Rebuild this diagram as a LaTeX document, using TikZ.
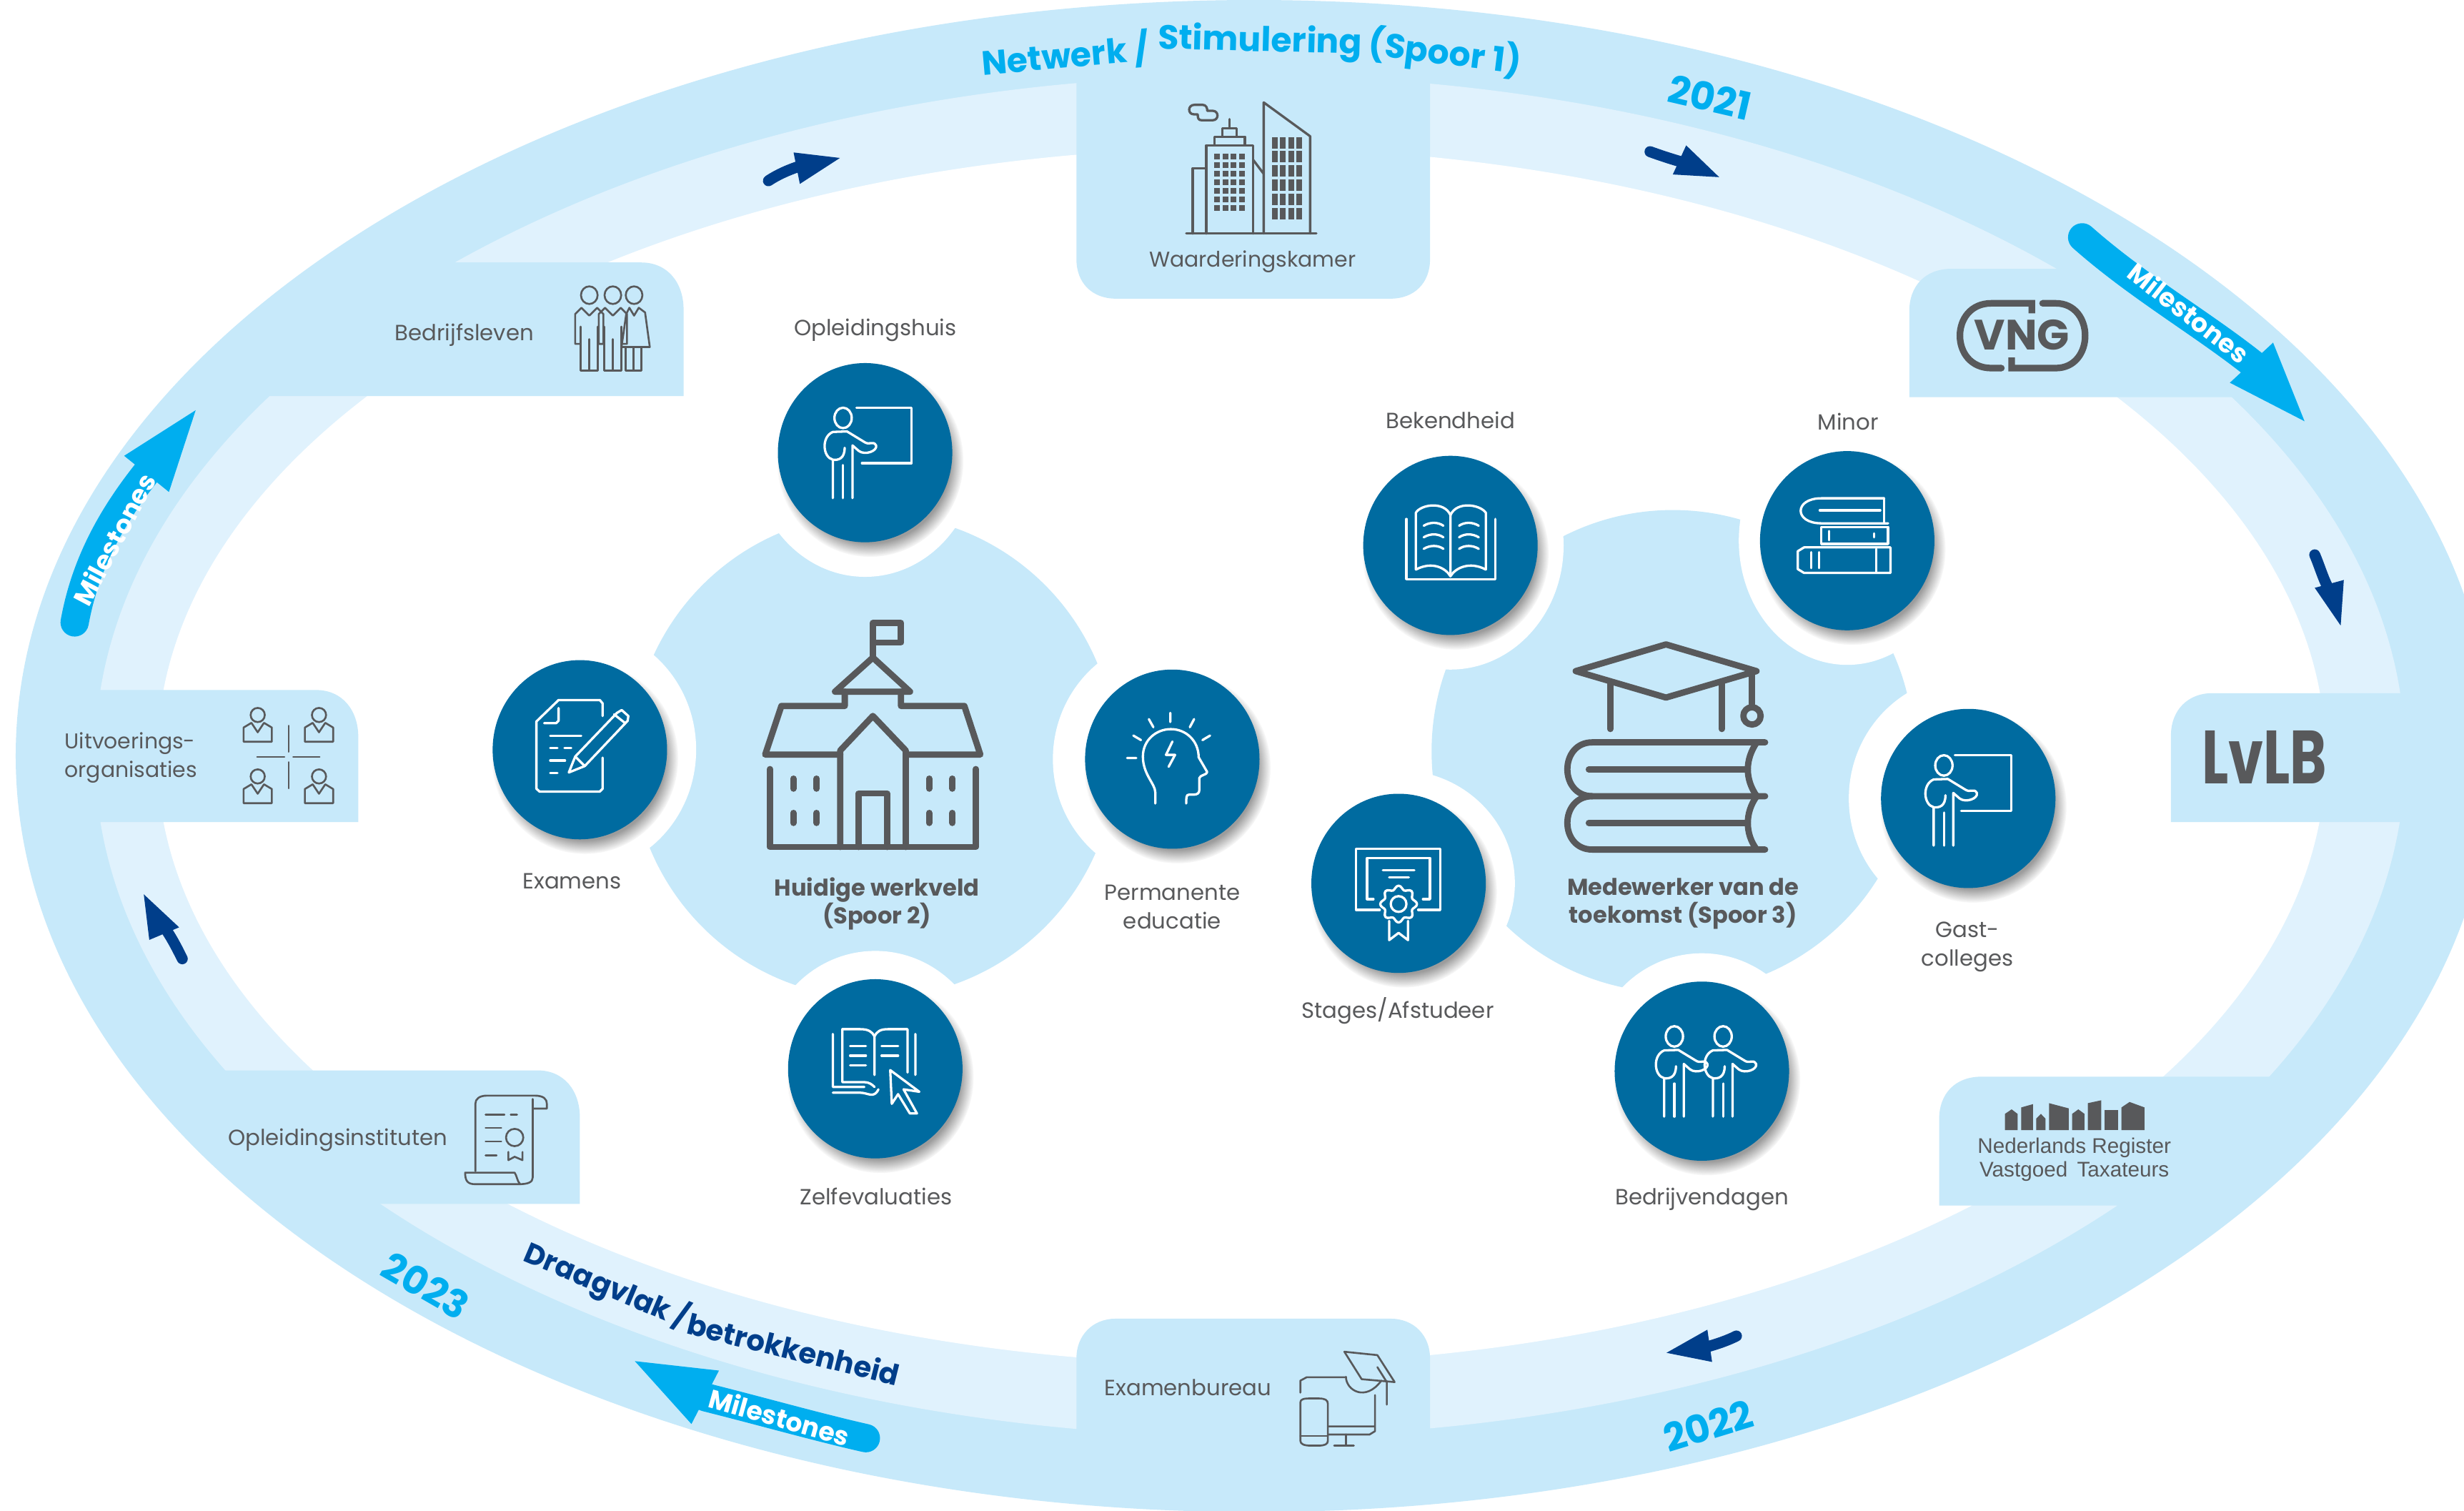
\documentclass[tikz,border=0pt]{standalone}
\usepackage{fontspec}
\setmainfont{Poppins}
\usetikzlibrary{shadows,shapes.geometric}
\definecolor{ringdark}{HTML}{C7E9FA}
\definecolor{ringlight}{HTML}{E0F2FD}
\definecolor{circblue}{HTML}{006BA0}
\definecolor{txtgray}{HTML}{58595B}
\definecolor{skyb}{HTML}{00AEEF}
\definecolor{navyb}{HTML}{003E8A}
\tikzset{
  lbl/.style={font=\fontsize{14}{18}\selectfont,text=txtgray,inner sep=0pt,align=center,text height=9.4pt,text depth=0pt},
  lblm/.style={font=\fontsize{14}{18.3}\selectfont,text=txtgray,inner sep=0pt,align=center},
  lblb/.style={font=\fontsize{14.6}{18}\selectfont\bfseries,text=txtgray,inner sep=0pt,align=center},
  yearlbl/.style={font=\fontsize{24.5}{26}\selectfont\bfseries,text=skyb,inner sep=0pt},
  mslbl/.style={font=\fontsize{16.5}{18}\selectfont\bfseries,text=white,inner sep=0pt},
  ringsky/.style={font=\fontsize{21.5}{24}\selectfont\bfseries,text=skyb,inner sep=0pt},
  ringnavy/.style={font=\fontsize{18.3}{22}\selectfont\bfseries,text=navyb,inner sep=0pt},
  circ/.style={ellipse,fill=circblue,inner sep=0pt,minimum width=111pt,minimum height=114pt,
    circular drop shadow={shadow xshift=3pt,shadow yshift=-5pt,shadow scale=1.07,opacity=.55,fill=black!70}},
  iconw/.style={draw=white,line width=1.5pt,line cap=round,line join=round,fill=none},
  icong/.style={draw=txtgray,line width=1.2pt,line cap=round,line join=round,fill=none},
  iconbig/.style={draw=txtgray,line width=4pt,line cap=round,line join=round,fill=none},
  sshaft/.style={draw=navyb,line width=7pt,line cap=round},
  shead/.style={fill=navyb},
  mshaft/.style={draw=skyb,line width=18pt,line cap=round},
  mhead/.style={fill=skyb}
}
\newcommand\persfig[2]{\begin{scope}[shift={(#1,#2)}]
  \draw[iconw] (0,0) ellipse [x radius=5.5pt,y radius=6.5pt];
  \draw[iconw] (-6.5,51)--(-6.5,26.6) .. controls (-13,25) and (-14,12) .. (-6.5,8.9) -- (2.5,8.6) -- (13,15) .. controls (17,18) and (19,14) .. (21,17.5) .. controls (22,21) and (14,24) .. (10,21) -- (6,17.5) -- (6,51);
  \draw[iconw] (-6.5,26.6) .. controls (-3,27) and (1,26) .. (1,19);
  \draw[iconw] (0,30)--(0,51);
\end{scope}}
\newcommand\staffig[2]{\begin{scope}[shift={(#1,#2)}]
  \draw[icong] (0,0) circle [radius=4.5pt];
  \draw[icong] (-9,17)--(9,17)--(9,8)--(4,5)--(0,11)--(-4,5)--(-9,8)--cycle;
\end{scope}}
\newcommand\manfig[1]{\begin{scope}[shift={(#1,187.8)}]
  \draw[icong] (0,0) ellipse [x radius=5.3pt,y radius=5.6pt];
  \draw[icong] (-5,8)--(0,13)--(5,8) (-5,8)--(-9,12)--(-9,31)--(-6,31) (5,8)--(9,12)--(9,31)--(6,31);
  \draw[icong] (-5.5,20)--(-5.5,48)--(5.5,48)--(5.5,20) (0,28)--(0,48);
\end{scope}}
\begin{document}
\begin{tikzpicture}[x=1pt,y=-1pt]
\clip (0,0) rectangle (1568,961);
\fill[white] (0,0) rectangle (1568,961);
% rings
\fill[ringdark] (798,481) ellipse [x radius=788pt,y radius=481pt];
\fill[ringlight] (795.5,481) ellipse [x radius=735pt,y radius=433pt];
\fill[white] (790,481) ellipse [x radius=690pt,y radius=387pt];
% boxes
\fill[ringdark] (685,35)--(910,35)--(910,165) .. controls (910,180) and (900,190) .. (885,190)--(710,190) .. controls (695,190) and (685,180) .. (685,165)--cycle;
\fill[ringdark] (250,167)--(408,167) .. controls (425,167) and (435,180) .. (435,197)--(435,252)--(150,252)--cycle;
\fill[ringdark] (30,439)--(201,439) .. controls (218,439) and (228,452) .. (228,469)--(228,523)--(30,523)--cycle;
\fill[ringdark] (120,681)--(342,681) .. controls (359,681) and (369,694) .. (369,711)--(369,766)--(210,766)--cycle;
\fill[ringdark] (685,915)--(685,864) .. controls (685,850) and (695,839) .. (710,839)--(885,839) .. controls (900,839) and (910,850) .. (910,864)--(910,915)--cycle;
\fill[ringdark] (1215,252.7)--(1215,198) .. controls (1215,182) and (1225,171) .. (1242,171)--(1340,171)--(1460,252.7)--cycle;
\fill[ringdark] (1381.5,523)--(1381.5,468) .. controls (1381.5,452) and (1392,441) .. (1408,441)--(1568,441)--(1568,523)--cycle;
\fill[ringdark] (1234,767)--(1234,712) .. controls (1234,696) and (1244,685) .. (1261,685)--(1470,685)--(1370,767)--cycle;
% blobs and cut-outs
\fill[ringdark] (556,481) circle [radius=154pt];
\fill[ringdark] (1064.5,478) circle [radius=153.5pt];
\fill[white] (550.5,288) ellipse [x radius=72pt,y radius=79pt];
\fill[white] (369,477) ellipse [x radius=74pt,y radius=78pt];
\fill[white] (746,483) ellipse [x radius=76pt,y radius=78pt];
\fill[white] (557,680) ellipse [x radius=72pt,y radius=75pt];
\fill[white] (923,347) ellipse [x radius=72pt,y radius=79pt];
\fill[white] (1175.5,344) ellipse [x radius=69pt,y radius=79pt];
\fill[white] (1252.5,508) ellipse [x radius=76pt,y radius=78pt];
\fill[white] (890,562) ellipse [x radius=74pt,y radius=72pt];
\fill[white] (1083,681.5) ellipse [x radius=72pt,y radius=75pt];
% circles
\node[circ] (opl) at (550.5,288) {};
\node[circ] (exa) at (369,477) {};
\node[circ] (perm) at (746,483) {};
\node[circ] (zelf) at (557,680) {};
\node[circ] (bek) at (923,347) {};
\node[circ] (min) at (1175.5,344) {};
\node[circ] (gast) at (1252.5,508) {};
\node[circ] (stag) at (890,562) {};
\node[circ] (bedr) at (1083,681.5) {};
% white icons: teacher
\persfig{536.5}{265.9}
\draw[iconw] (545,259.4)--(580,259.4)--(580,294.7)--(548.5,294.7);
\persfig{1237}{487}
\draw[iconw] (1244,480.5)--(1280,480.5)--(1280,516)--(1248,516);
\persfig{1065.5}{659.4}
\persfig{1096.5}{659.4}
% exam
\begin{scope}[shift={(327.4,436.6)},x=.1516pt,y=-.1516pt]
\draw[iconw] (370,125)--(370,72)--(358,58)--(185,58)--(92,148)--(92,430)--(105,442)--(358,442)--(370,430)--(370,300);
\draw[iconw] (185,92)--(185,145)--(175,155)--(125,155);
\draw[iconw] (150,208)--(280,208) (150,260)--(180,260) (210,260)--(238,260) (150,312)--(212,312) (150,364)--(180,364);
\draw[iconw] (228,362)--(255,295)--(430,112)--(450,100)--(478,125)--(475,145)--(295,335)--cycle;
\draw[iconw] (255,295)--(295,335) (418,118)--(465,155);
\end{scope}
% head
\begin{scope}[shift={(709.4,445.7)},x=.1516pt,y=-.1516pt]
\draw[iconw] (233,52)--(233,90) (143,78)--(162,112) (78,147)--(110,166) (52,241)--(90,241) (333,78)--(315,112) (400,147)--(368,166);
\draw[iconw] (170,432)--(170,385) .. controls (170,350) and (118,310) .. (118,235) .. controls (118,165) and (175,120) .. (235,120) .. controls (300,120) and (352,170) .. (352,238) -- (388,300) .. controls (388,312) and (358,312) .. (355,325) -- (355,375) .. controls (355,390) and (345,395) .. (330,395) -- (312,395) .. controls (300,395) and (300,405) .. (300,432);
\draw[iconw] (242,172)--(215,228)--(253,228)--(226,278);
\end{scope}
% Q3 icons
\begin{scope}[shift={(0,480.2)},x=.5pt,y=-.3063pt]
\draw[iconw] (1060,580)--(1060,690)--(1100,690) (1072,570)--(1072,680)--(1100,680) .. controls (1106,680) and (1110,685) .. (1113,690);
\draw[iconw] (1072,570)--(1095,570) .. controls (1105,570) and (1110,575) .. (1113,585)--(1113,665) (1113,585) .. controls (1116,575) and (1120,570) .. (1130,570)--(1155,570)--(1155,660) (1165,580)--(1165,665);
\draw[iconw] (1060,702)--(1095,702) .. controls (1105,702) and (1112,715) .. (1118,695);
\draw[iconw] (1082,605)--(1102,605) (1082,625)--(1102,625) (1082,645)--(1102,645) (1122,605)--(1143,605) (1122,625)--(1143,625);
\draw[iconw] (1133,655)--(1170,700)--(1150,695)--(1167,745)--(1158,745)--(1143,705)--(1135,725)--cycle;
% scroll
\draw[icong] (605,865)--(605,725) .. controls (605,715) and (610,708) .. (620,708)--(680,708) .. controls (692,708) and (696,715) .. (696,725)--(696,735)--(678,735);
\draw[icong] (678,715)--(678,878) .. controls (678,888) and (672,892) .. (660,892)--(605,892) .. controls (595,892) and (592,885) .. (592,868)--(655,868) .. controls (658,875) and (658,885) .. (662,892);
\draw[icong] (618,748)--(642,748) (650,748)--(658,748) (618,775)--(638,775) (618,803)--(638,803) (618,832)--(632,832);
\draw[icong] (655,795) ellipse [x radius=5.5pt,y radius=5.5pt];
\draw[icong] (647,825)--(647,842)--(655,835)--(665,842)--(665,825);
\end{scope}
% Q2 icons
\begin{scope}[shift={(784,0)},x=.5pt,y=-.3063pt]
% open book
\draw[iconw] (222,1078)--(222,1203)--(335,1203)--(335,1078);
\draw[iconw] (234,1183)--(234,1065) .. controls (240,1048) and (270,1040) .. (278,1070)--(278,1190);
\draw[iconw] (278,1070) .. controls (286,1040) and (316,1048) .. (323,1065)--(323,1183);
\draw[iconw] (234,1183) .. controls (255,1165) and (272,1180) .. (278,1197) .. controls (284,1180) and (302,1165) .. (323,1183);
\foreach \yy in {1092,1116,1140} {
  \draw[iconw] (244,\yy) .. controls (252,\yy-8) and (262,\yy-8) .. (269,\yy);
  \draw[iconw] (289,\yy) .. controls (296,\yy-8) and (306,\yy-8) .. (314,\yy);
}
% stacked books
\draw[iconw] (830,1035)--(750,1035) .. controls (715,1035) and (715,1087) .. (750,1087)--(835,1087);
\draw[iconw] (748,1060)--(825,1060) (830,1035)--(830,1087);
\draw[iconw] (750,1095)--(750,1130)--(835,1130)--(835,1095)--cycle;
\draw[iconw] (760,1103)--(760,1122) (817,1108)--(817,1116);
\draw[iconw] (720,1145)--(720,1182)--(728,1190)--(838,1190)--(838,1137)--(728,1137)--cycle;
\draw[iconw] (737,1147)--(737,1180) (747,1147)--(747,1180) (820,1140)--(820,1188);
\end{scope}
% Q4 icons
\begin{scope}[shift={(784,480.2)},x=.5pt,y=-.3063pt]
\draw[iconw] (188,322)--(158,322)--(158,195)--(265,195)--(265,322)--(237,322);
\draw[iconw] (180,300)--(172,300)--(172,215)--(252,215)--(252,300)--(243,300);
\draw[iconw] (192,240)--(232,240) (200,255)--(225,255);
\draw[iconw] (212,310) ellipse [x radius=5pt,y radius=5pt];
\draw[iconw] (200,345)--(200,385)--(212,370)--(224,385)--(224,345);
% examenbureau
\draw[icong] (143,1240)--(185,1247)--(207,1303)--(165,1297)--cycle;
\draw[icong] (87,1325)--(87,1300)--(95,1293)--(145,1293);
\draw[icong] (87,1345) .. controls (87,1338) and (92,1337) .. (100,1337)--(110,1337) .. controls (118,1337) and (122,1340) .. (122,1348)--(122,1425) .. controls (122,1432) and (118,1435) .. (110,1435)--(100,1435) .. controls (92,1435) and (87,1432) .. (87,1425)--cycle;
\draw[icong] (87,1415)--(122,1415);
\draw[icong] (182,1330)--(182,1405)--(175,1412)--(122,1412) (122,1395)--(182,1395);
\draw[icong] (145,1412)--(145,1435) (130,1435)--(155,1435);
\draw[icong] (145,1292) .. controls (145,1320) and (170,1345) .. (190,1300);
\draw[icong] (197,1303)--(197,1350) (185,1272)--(197,1303);
\end{scope}
\draw[iconw] plot [domain=0:360,samples=65,smooth] ({890.0+(10.5+1.2*cos(8*\x))*cos(\x)},{575.2+(10.5+1.2*cos(8*\x))*sin(\x)});
% big icons
\begin{scope}[shift={(454.8,363.8)},x=.1516pt,y=-.1516pt]
\draw[iconbig] (664,355)--(664,215)--(782,215)--(782,297)--(664,297);
\draw[iconbig] (505,503)--(664,360)--(820,503)--cycle;
\draw[iconbig] (546,503)--(546,563)--(280,563)--(212,767)--(527,767);
\draw[iconbig] (782,503)--(782,563)--(1048,563)--(1115,767)--(802,767);
\draw[iconbig] (527,1155)--(527,750)--(664,605)--(802,750)--(802,1155);
\draw[iconbig] (605,1155)--(605,930)--(723,930)--(723,1155);
\draw[iconbig] (232,828)--(232,1155)--(1096,1155)--(1096,828);
\foreach \xx in {330,428,900,998} {
  \draw[iconbig] (\xx,868)--(\xx,910);
  \draw[iconbig] (\xx,1012)--(\xx,1054);
}
\end{scope}
\begin{scope}[shift={(977.7,386.5)},x=.1516pt,y=-.1516pt]
\draw[iconbig] (165,267)--(544,155)--(924,267)--(544,378)--cycle;
\draw[iconbig] (310,320)--(310,510) (778,320)--(778,510);
\draw[iconbig] (905,267)--(905,415);
\draw[iconbig] (905,455) circle [radius=5.5pt];
\draw[iconbig] (960,566)--(235,566) .. controls (95,566) and (95,792) .. (235,792)--(960,792);
\draw[iconbig] (235,792) .. controls (95,792) and (95,1016) .. (235,1016)--(960,1016);
\draw[iconbig] (220,680)--(885,680) (220,904)--(885,904);
\draw[iconbig] (925,566) .. controls (875,640) and (875,720) .. (925,792) .. controls (875,860) and (875,950) .. (925,1016);
\end{scope}
% building
\begin{scope}[shift={(745.8,59.1)},x=.1516pt,y=-.1516pt]
\draw[icong,line width=1.5pt] (60,590)--(606,590) (87,590)--(87,316)--(144,316);
\draw[icong,line width=1.5pt] (144,590)--(144,220)--(340,220)--(340,590);
\draw[icong,line width=1.5pt] (178,220)--(178,184)--(306,184)--(306,220) (212,184)--(212,148)--(272,148)--(272,184) (241,148)--(241,110);
\draw[icong,line width=1.5pt] (340,280)--(385,340) (385,590)--(385,40)--(580,182)--(580,590);
\draw[icong,line width=1.5pt] (95,50)--(128,50) .. controls (145,50) and (148,65) .. (148,75) -- (170,75) .. controls (198,75) and (198,115) .. (170,115) -- (125,115) .. controls (110,115) and (108,105) .. (108,90) -- (92,90) .. controls (65,90) and (65,50) .. (95,50);
\foreach \xx in {177,213,246,282} \foreach \yy in {255,291,327,363,399,435,471}
  \fill[txtgray] (\xx,\yy) rectangle (\xx+24,\yy+24);
\foreach \xx in {420,453,489,522} \foreach \yy in {186,243,303,363,423,483}
  \fill[txtgray] (\xx,\yy) rectangle (\xx+24,\yy+48);
\end{scope}
% people
\manfig{375}
\manfig{390}
\begin{scope}[shift={(403.5,187.8)}]
\draw[icong] (0,0) ellipse [x radius=5.3pt,y radius=5.6pt];
\draw[icong] (-3,8)--(0,13)--(3,8)--(7,11)--(10,33)--(-8,33)--(-5,12)--cycle;
\draw[icong] (-5.5,33)--(-5.5,48)--(4.5,48)--(4.5,33) (-0.5,33)--(-0.5,48);
\end{scope}
% organisation
\staffig{164}{454.9}
\staffig{203}{454.9}
\staffig{164}{494}
\staffig{203}{494}
\draw[icong,line width=.9pt] (183.5,461.6)--(183.5,478.4) (183.5,484.8)--(183.5,501.6) (163.5,481.7)--(181,481.7) (186.5,481.7)--(203.5,481.7);
% VNG
\begin{scope}[shift={(1227.8,181.9)},x=.1516pt,y=-.1516pt]
\draw[draw=txtgray,line width=4.2pt] (302,345)--(260,345) .. controls (84,345) and (84,73) .. (260,73)--(430,73)--(430,115);
\draw[draw=txtgray,line width=4.2pt] (345,300)--(345,345)--(530,345) .. controls (695,345) and (695,73) .. (530,73)--(475,73);
\fill[txtgray] (302,345) circle [radius=2.1pt] (475,73) circle [radius=2.1pt];
\node[font=\fontsize{27}{27}\selectfont\bfseries,text=txtgray,inner sep=0pt] (vng) at (388,207) {VNG};
\end{scope}
% LvLB
\node[font=\fontsize{48}{48}\selectfont\bfseries,text=txtgray,inner sep=0pt,xscale=.74,transform shape] (lvlb) at (1441,481.6) {LvLB};
% NRVT houses
\begin{scope}[shift={(1255.1,695.8)},x=.1516pt,y=-.1516pt]
\fill[txtgray] (137,153)--(137,85)--(165,66)--(190,85)--(190,153)--cycle;
\fill[txtgray] (205,153)--(205,58)--(255,44)--(255,153)--cycle;
\fill[txtgray] (268,153)--(268,105)--(288,85)--(307,105)--(307,153)--cycle;
\fill[txtgray] (322,153)--(322,40)--(405,62)--(405,153)--cycle;
\fill[txtgray] (419,153)--(419,85)--(445,66)--(471,85)--(471,153)--cycle;
\fill[txtgray] (485,153)--(485,40)--(541,28)--(541,153)--cycle;
\fill[txtgray] (556,153)--(556,68)--(612,68)--(612,153)--cycle;
\fill[txtgray] (626,153)--(626,58)--(660,35)--(723,58)--(723,153)--cycle;
\end{scope}
\node[font=\fontsize{13.5}{15}\selectfont\fontspec{Liberation Sans},text=txtgray,inner sep=0pt,anchor=base] (nrvt1) at (1320,733.7) {Nederlands Register};
\node[font=\fontsize{13.5}{15}\selectfont\fontspec{Liberation Sans},text=txtgray,inner sep=0pt,anchor=base] (nrvt2) at (1320,748.9) {Vastgoed\, Taxateurs};
% small arrows
\draw[sshaft] (489,115) .. controls (495,111) and (502,108) .. (508,106);
\fill[shead] (534.5,100.5)--(505,97)--(509,117)--cycle;
\draw[sshaft] (1050,96.5) .. controls (1057,99) and (1063,101) .. (1070,103);
\fill[shead] (1094,112.7)--(1073,92.5)--(1064.5,111)--cycle;
\draw[sshaft] (1473,353) .. controls (1476,360) and (1478,367) .. (1481,373);
\fill[shead] (1489.5,398)--(1491.5,369)--(1473,374)--cycle;
\draw[sshaft] (1105,850) .. controls (1099,853) and (1093,855) .. (1086,857);
\fill[shead] (1060.5,860.7)--(1086.5,846)--(1089.5,866.5)--cycle;
\draw[sshaft] (116,610) .. controls (113,604) and (110,598) .. (106,592);
\fill[shead] (91.5,569)--(114,590)--(95,598)--cycle;
% milestones
\draw[mshaft] (47.5,396) .. controls (54,360) and (70,330) .. (93,301);
\fill[mhead] (124.5,261)--(79,290)--(107.5,313)--cycle;
\draw[mshaft] (1325,151) .. controls (1360,182) and (1400,205) .. (1433,231);
\fill[mhead] (1466.5,268)--(1446.5,218)--(1419,243.5)--cycle;
\draw[mshaft] (551,915) .. controls (520,908) and (485,898) .. (449,889);
\fill[mhead] (404,866)--(457.5,872)--(440,906)--cycle;
\node[mslbl,rotate=62] (ms1) at (72.5,343) {Milestones};
\node[mslbl,rotate=-38] (ms2) at (1393,199) {Milestones};
\node[mslbl,rotate=-15.7] (ms3) at (496,901.5) {Milestones};
% titles along the ring
\node[ringsky,rotate=5] (nw1) at (678,35) {Netwerk /};
\node[ringsky,rotate=-1.5] (nw2) at (802,27) {Stimulering};
\node[ringsky,rotate=-7] (nw3) at (919.5,34) {(Spoor 1)};
\node[ringnavy,rotate=-23] (dr1) at (386,818) {Draagvlak /};
\node[ringnavy,rotate=-14] (dr2) at (505,858) {betrokkenheid};
% years
\node[yearlbl,rotate=-13] (y21) at (1088,62) {2021};
\node[yearlbl,rotate=17] (y22) at (1087,907) {2022};
\node[yearlbl,rotate=-30] (y23) at (271,818) {2023};
% labels
\node[lbl] (t1) at (557,209) {Opleidingshuis};
\node[lbl] (t2) at (295.5,212) {Bedrijfsleven};
\node[lbl,font=\fontsize{13.6}{18}\selectfont] (t3) at (797,165) {Waarderingskamer};
\node[lbl] (t4) at (923,268) {Bekendheid};
\node[lbl] (t5) at (1176,269) {Minor};
\node[lblm,align=left,anchor=west,font=\fontsize{13.6}{18.3}\selectfont] (t6) at (41,482) {Uitvoerings-\\organisaties};
\node[lbl] (t7) at (364,561) {Examens};
\node[lblb] (t8) at (558,575) {Huidige werkveld\\(Spoor 2)};
\node[lblm] (t9) at (746,577) {Permanente\\educatie};
\node[lblb] (t10) at (1071,575) {Medewerker van de\\toekomst (Spoor 3)};
\node[lbl] (t11) at (889.5,643) {Stages/Afstudeer};
\node[lblm] (t12) at (1252,602.5) {Gast-\\colleges};
\node[lbl] (t13) at (1083,762) {Bedrijvendagen};
\node[lbl] (t14) at (557.5,762) {Zelfevaluaties};
\node[lbl] (t15) at (215,724) {Opleidingsinstituten};
\node[lbl] (t16) at (756,883) {Examenbureau};
\end{tikzpicture}
\end{document}
